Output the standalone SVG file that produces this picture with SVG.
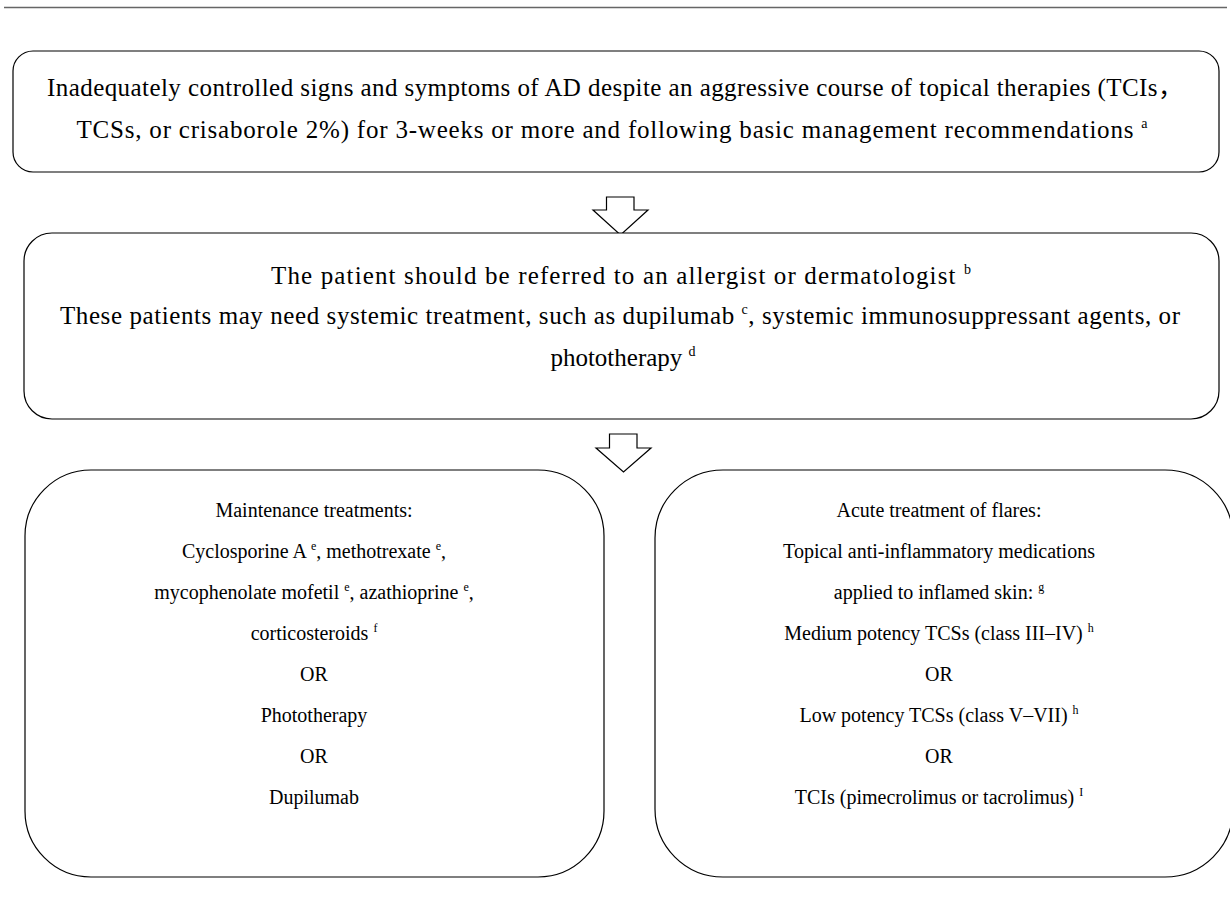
<svg xmlns="http://www.w3.org/2000/svg" width="1230" height="906" viewBox="0 0 1230 906">
<style>
text{font-family:"Liberation Serif","Times New Roman","Noto Sans CJK SC",serif;fill:#000;text-anchor:middle}
.t{font-size:25px}
.b{font-size:20px}
.sup{font-size:14px}
.bsup{font-size:12px}
.box{fill:#fff;stroke:#000;stroke-width:1.2}
.arr{fill:#fff;stroke:#000;stroke-width:1.2}
</style>
<rect width="1230" height="906" fill="#fff"/>
<line x1="4" y1="7.5" x2="1227" y2="7.5" stroke="#666" stroke-width="1.5"/>
<g id="connectors">
<path class="arr" d="M606.5,197 H634 V210 H648 L620.5,235 L593,210 H606.5 Z"/>
<path class="arr" d="M609.5,434 H637 V448 H651 L623.5,472 L596,448 H609.5 Z"/>
</g>
<g id="node1">
<rect class="box" x="13" y="51" width="1206" height="121" rx="20"/>
<text class="t" x="615" y="96" textLength="1136">Inadequately controlled signs and symptoms of AD despite an aggressive course of topical therapies (TCIs，</text>
<text class="t" x="612" y="138" textLength="1071">TCSs, or crisaborole 2%) for 3-weeks or more and following basic management recommendations <tspan class="sup" dy="-10">a</tspan></text>
</g>
<g id="node2">
<rect class="box" x="24" y="233" width="1195" height="186" rx="28"/>
<text class="t" x="621" y="284" textLength="700">The patient should be referred to an allergist or dermatologist <tspan class="sup" dy="-10">b</tspan></text>
<text class="t" x="620" y="324" textLength="1120">These patients may need systemic treatment, such as dupilumab <tspan class="sup" dy="-10">c</tspan><tspan dy="10">, systemic immunosuppressant agents, or</tspan></text>
<text class="t" x="623" y="366">phototherapy <tspan class="sup" dy="-10">d</tspan></text>
</g>
<g id="node3">
<rect class="box" x="25" y="470" width="579" height="407" rx="66"/>
<text class="b" x="314" y="517">Maintenance treatments:</text>
<text class="b" x="314" y="558">Cyclosporine A <tspan class="bsup" dy="-8">e</tspan><tspan dy="8">, methotrexate </tspan><tspan class="bsup" dy="-8">e</tspan><tspan dy="8">,</tspan></text>
<text class="b" x="314" y="599">mycophenolate mofetil <tspan class="bsup" dy="-8">e</tspan><tspan dy="8">, azathioprine </tspan><tspan class="bsup" dy="-8">e</tspan><tspan dy="8">,</tspan></text>
<text class="b" x="314" y="640">corticosteroids <tspan class="bsup" dy="-8">f</tspan></text>
<text class="b" x="314" y="681">OR</text>
<text class="b" x="314" y="722">Phototherapy</text>
<text class="b" x="314" y="763">OR</text>
<text class="b" x="314" y="804">Dupilumab</text>
</g>
<g id="node4">
<rect class="box" x="655" y="470" width="578" height="407" rx="68"/>
<text class="b" x="939" y="517">Acute treatment of flares:</text>
<text class="b" x="939" y="558">Topical anti-inflammatory medications</text>
<text class="b" x="939" y="599">applied to inflamed skin: <tspan class="bsup" dy="-8">g</tspan></text>
<text class="b" x="939" y="640">Medium potency TCSs (class III–IV) <tspan class="bsup" dy="-8">h</tspan></text>
<text class="b" x="939" y="681">OR</text>
<text class="b" x="939" y="722">Low potency TCSs (class V–VII) <tspan class="bsup" dy="-8">h</tspan></text>
<text class="b" x="939" y="763">OR</text>
<text class="b" x="939" y="804">TCIs (pimecrolimus or tacrolimus) <tspan class="bsup" dy="-8">I</tspan></text>
</g>
</svg>
